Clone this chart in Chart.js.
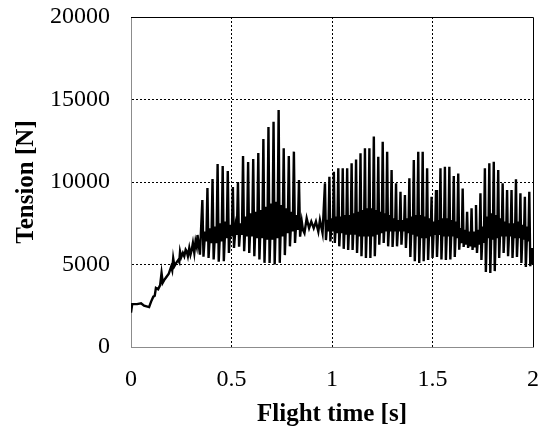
<!DOCTYPE html>
<html>
<head>
<meta charset="utf-8">
<script src="https://cdn.jsdelivr.net/npm/chart.js@4/dist/chart.umd.min.js"></script>
<style>
  html, body { margin: 0; padding: 0; background: #fff; }
  #wrap { width: 539px; height: 430px; }
</style>
</head>
<body>
<div id="wrap"><canvas id="chart_tension"></canvas></div>
<script>
// start-up part, read point by point
var rampTime = [0, 0.006, 0.03, 0.05, 0.065, 0.09, 0.1, 0.111, 0.118, 0.124,
    0.135, 0.145, 0.152, 0.158, 0.165, 0.177, 0.188, 0.2, 0.205, 0.21,
    0.216, 0.225, 0.235, 0.24, 0.244, 0.25, 0.258, 0.265, 0.272, 0.277,
    0.283, 0.29, 0.296, 0.302, 0.308, 0.315, 0.321, 0.327, 0.331, 0.343];
var rampTension = [2080, 2600, 2600, 2650, 2500, 2420, 2750, 3050, 3100, 3580,
    3500, 3750, 4480, 3900, 4050, 4260, 4450, 4870, 4650, 5370,
    4900, 5100, 5270, 5150, 5780, 5450, 5700, 5500, 5900, 5800,
    5500, 6000, 5600, 5880, 6300, 5700, 6400, 6080, 6790, 5600];

// first burst: per cycle a big peak, a trough, then a small peak and dip in the middle band
var burstStartA = 0.355;
var periodA = 0.0253;
var peaksA = [8910, 9640, 10180, 11090, 10970, 10670, 9700, 10000, 11580, 11210,
    11390, 11760, 12600, 13330, 13650, 14360, 12040, 11580, 11840, 10120];
var troughsA = [5470, 5400, 5300, 5170, 5200, 5700, 6000, 6080, 5800, 5700,
    5500, 5300, 5100, 5090, 5000, 5100, 5570, 6100, 6300, 6690];
var subPeaksA = [7000, 7200, 7300, 7500, 7600, 7400, 7300, 7500, 7900, 8100,
    8200, 8300, 8500, 8700, 8800, 8600, 8400, 8200, 8000, 7600];
var subDipsA = [6400, 6300, 6300, 6400, 6600, 6700, 6800, 6800, 6700, 6700,
    6600, 6600, 6500, 6500, 6600, 6700, 6900, 7000, 7100, 7100];

// quiet part around 0.9 s
var quietTime = [0.863, 0.874, 0.886, 0.897, 0.909, 0.92, 0.932, 0.94, 0.953];
var quietTension = [6900, 7800, 7200, 7600, 7200, 7600, 7000, 7700, 6900];

// second burst
var burstStartB = 0.965;
var periodB = 0.0221;
var peaksB = [9920, 10320, 10620, 10830, 10830, 10830, 11130, 11370, 11740, 12040,
    12040, 12750, 11530, 12440, 11840, 10730, 9920, 9410, 9210, 10220,
    11330, 11840, 11840, 10830, 9110, 9520, 10830, 10930, 10930, 10360,
    10520, 9610, 8200, 8400, 8600, 9310, 10830, 11130, 11230, 10730,
    9920, 9520, 9520, 10160, 9310, 9110, 9410];
var troughsB = [6480, 6400, 6300, 6100, 5950, 5880, 5880, 5700, 5500, 5400,
    5390, 5500, 6200, 6300, 6100, 6060, 6100, 6200, 6000, 5450,
    5200, 5090, 5200, 5270, 5400, 5450, 5300, 5270, 5300, 5450,
    5900, 6060, 6000, 5880, 5700, 5270, 4550, 4480, 4600, 5400,
    5700, 5500, 5390, 5450, 5090, 4850, 4900];
var subPeaksB = [7700, 7800, 7900, 7900, 8000, 8000, 8100, 8200, 8300, 8400,
    8400, 8300, 8200, 8100, 8000, 7800, 7700, 7700, 7800, 7900,
    8000, 8000, 7900, 7800, 7600, 7700, 7800, 7800, 7700, 7600,
    7200, 7100, 7000, 7000, 7100, 7300, 7900, 8100, 8000, 7800,
    7600, 7500, 7500, 7600, 7400, 7300, 6000];
var subDipsB = [7000, 7000, 6900, 6900, 6800, 6800, 6800, 6700, 6700, 6700,
    6700, 6800, 6900, 7000, 7000, 7000, 7000, 7000, 6900, 6800,
    6700, 6600, 6600, 6700, 6800, 6800, 6700, 6700, 6700, 6600,
    6300, 6200, 6100, 6100, 6200, 6300, 6600, 6500, 6600, 6700,
    6700, 6700, 6600, 6600, 6500, 6400, 5000];

var xTicks = [0, 0.5, 1, 1.5, 2];
var yTicks = [0, 5000, 10000, 15000, 20000];

// where the four marks of a cycle sit, as a share of the period
var cyclePhase = [0, 0.22, 0.55, 0.78];

var pushBurst = function (list, start, period, peaks, troughs, subPeaks, subDips) {
    for (let i = 0; i < peaks.length; i++) {
        let t0 = start + i * period;
        let vals = [peaks[i], troughs[i], subPeaks[i], subDips[i]];
        for (let k = 0; k < 4; k++)
            list.push({x: t0 + cyclePhase[k] * period, y: vals[k]});
    }
};

var points = [];
for (let i = 0; i < rampTime.length; i++)
    points.push({x: rampTime[i], y: rampTension[i]});
pushBurst(points, burstStartA, periodA, peaksA, troughsA, subPeaksA, subDipsA);
for (let i = 0; i < quietTime.length; i++)
    points.push({x: quietTime[i], y: quietTension[i]});
pushBurst(points, burstStartB, periodB, peaksB, troughsB, subPeaksB, subDipsB);

var serif = "'Liberation Serif', 'Times New Roman', serif";

// black frame on top and right like the original plot area
var frame = {
    id: 'frame',
    afterDraw: function (chart) {
        let a = chart.chartArea;
        let ctx = chart.ctx;
        ctx.save();
        ctx.strokeStyle = '#000';
        ctx.lineWidth = 1;
        ctx.beginPath();
        ctx.moveTo(a.left, a.top + 0.5);
        ctx.lineTo(a.right + 0.5, a.top + 0.5);
        ctx.lineTo(a.right + 0.5, a.bottom);
        ctx.stroke();
        ctx.restore();
    }
};

var gridColor = function (ends) {
    return function (ctx) {
        if (ctx.tick && ends.indexOf(ctx.tick.value) >= 0) return 'rgba(0,0,0,0)';
        return '#000';
    };
};

new Chart(document.getElementById('chart_tension').getContext('2d'), {
    type: 'line',
    data: {
        datasets: [{
            label: 'Tension',
            data: points,
            borderColor: '#000',
            borderWidth: 2.4,
            pointRadius: 0,
            tension: 0,
            fill: false
        }]
    },
    options: {
        responsive: true,
        maintainAspectRatio: false,
        animation: false,
        parsing: false,
        layout: { padding: { left: 0, right: 6, top: 17, bottom: 0 } },
        plugins: { legend: { display: false }, tooltip: { enabled: false } },
        scales: {
            x: {
                type: 'linear',
                min: 0,
                max: 2,
                afterBuildTicks: function (s) { s.ticks = xTicks.map(v => ({value: v})); },
                afterFit: function (s) { s.height = 83; s.paddingLeft = 0; s.paddingRight = 0; },
                ticks: {
                    color: '#000',
                    font: { family: serif, size: 24 },
                    padding: 18,
                    maxRotation: 0,
                    callback: function (v) { return String(v); }
                },
                grid: { color: gridColor([0, 2]), lineWidth: 1, drawTicks: false },
                border: { display: true, color: '#8c8c8c', width: 1, dash: [2, 2] },
                title: {
                    display: true,
                    text: 'Flight time [s]',
                    color: '#000',
                    font: { family: serif, size: 25, weight: 'bold' },
                    padding: { top: 0, bottom: 0 }
                }
            },
            y: {
                type: 'linear',
                min: 0,
                max: 20000,
                afterBuildTicks: function (s) { s.ticks = yTicks.map(v => ({value: v})); },
                afterFit: function (s) { s.width = 131; s.paddingTop = 0; s.paddingBottom = 0; },
                ticks: {
                    color: '#000',
                    font: { family: serif, size: 24 },
                    padding: 21,
                    callback: function (v) { return String(v); }
                },
                grid: { color: gridColor([0, 20000]), lineWidth: 1, drawTicks: false },
                border: { display: true, color: '#8c8c8c', width: 1, dash: [2, 2] },
                title: {
                    display: true,
                    text: 'Tension [N]',
                    color: '#000',
                    font: { family: serif, size: 25, weight: 'bold' },
                    padding: { top: 12, bottom: 0 }
                }
            }
        }
    },
    plugins: [frame]
});
</script>
</body>
</html>
